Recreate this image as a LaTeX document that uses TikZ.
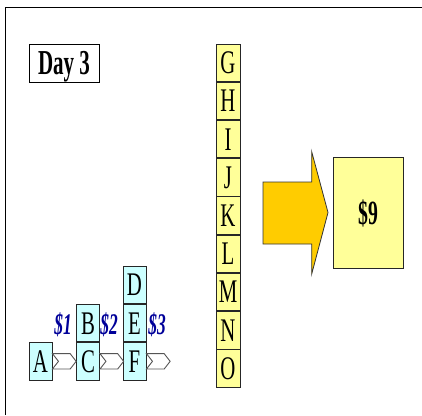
\documentclass[tikz,border=0pt]{standalone}
\usepackage{fontspec}
\setmainfont{Liberation Serif}
\usetikzlibrary{positioning}
\definecolor{cellcyan}{HTML}{CCFFFF}
\definecolor{cellyellow}{HTML}{FFFF99}
\definecolor{arroworange}{HTML}{FFCC00}
\definecolor{labelblue}{HTML}{000099}
\definecolor{chevgray}{HTML}{555555}
\newcommand{\sq}[1]{\scalebox{0.63}[1]{#1}}
\newcommand{\sqb}[1]{\scalebox{0.58}[1]{#1}}
\tikzset{
  cell/.style={draw=black!85, line width=0.9pt, minimum width=23pt, minimum height=37.33pt,
    inner sep=0pt, text height=21.8pt, text depth=0pt, font=\fontsize{33}{33}\selectfont},
  ccell/.style={cell, fill=cellcyan},
  ycell/.style={cell, fill=cellyellow, minimum width=24pt},
  cost/.style={text=labelblue, inner sep=0pt, text height=20pt, text depth=0pt,
    font=\fontsize{30}{30}\selectfont\bfseries\itshape},
  chevron/.style={draw=chevgray, line width=0.9pt, fill=white, line join=miter},
  frameline/.style={line width=1.5pt, black},
  bigarrow/.style={draw=black!80, line width=0.8pt, fill=arroworange, line join=miter},
}
\begin{document}
\begin{tikzpicture}[x=1pt, y=-1pt]
\useasboundingbox (0,0) rectangle (422,415);
% frame
\draw[frameline] (5.5,415) -- (5.5,7.5) -- (422,7.5);
% Day 3 label
\node[draw=black, line width=0.9pt, fill=white, minimum width=70pt, minimum height=38pt,
  inner sep=0pt, text height=23.5pt, text depth=0pt, font=\fontsize{35}{35}\selectfont\bfseries]
  (day) at (64,63) {\scalebox{0.6}[1]{Day 3}};
% yellow column
\node[ycell] (G) at (228,62.67) {\sq{G}};
\node[ycell, below=0pt of G] (H) {\sq{H}};
\node[ycell, below=0pt of H] (I) {\sq{I}};
\node[ycell, below=0pt of I] (J) {\sq{J}};
\node[ycell, below=0pt of J] (K) {\sq{K}};
\node[ycell, below=0pt of K] (L) {\sq{L}};
\node[ycell, below=0pt of L] (M) {\sq{M}};
\node[ycell, below=0pt of M] (N) {\sq{N}};
\node[ycell, below=0pt of N] (O) {\sq{O}};
% big arrow
\draw[bigarrow] (263,182) -- (311.7,182) -- (311.7,151.7) -- (328,212.5) -- (311.7,274)
  -- (311.7,244) -- (263,244) -- cycle;
% result box
\node[draw=black!85, line width=0.9pt, fill=cellyellow, minimum width=70pt, minimum height=111pt,
  inner sep=0pt, text height=23pt, text depth=0pt, font=\fontsize{34}{34}\selectfont\bfseries]
  (res) at (368,212.5) {\sqb{\$9}};
% bottom cells
\node[ccell] (A) at (40.5,361.33) {\sq{A}};
\node[ccell] (C) at (88,361.33) {\sq{C}};
\node[ccell, above=0pt of C] (B) {\sq{B}};
\node[ccell] (F) at (134.5,361.33) {\sq{F}};
\node[ccell, above=0pt of F] (E) {\sq{E}};
\node[ccell, above=0pt of E] (D) {\sq{D}};
% chevrons
\foreach \src in {A,C,F}{
  \draw[chevron, shift={(\src.east)}] (0,-7.7) -- (17.7,-7.7) -- (23.7,0) -- (17.7,7.7)
    -- (0,7.7) -- (6,0) -- cycle;
}
% cost labels
\node[cost] (c1) at (63,324) {\sqb{\$1}};
\node[cost] (c2) at (109,324) {\sqb{\$2}};
\node[cost] (c3) at (157,324) {\sqb{\$3}};
\end{tikzpicture}
\end{document}
